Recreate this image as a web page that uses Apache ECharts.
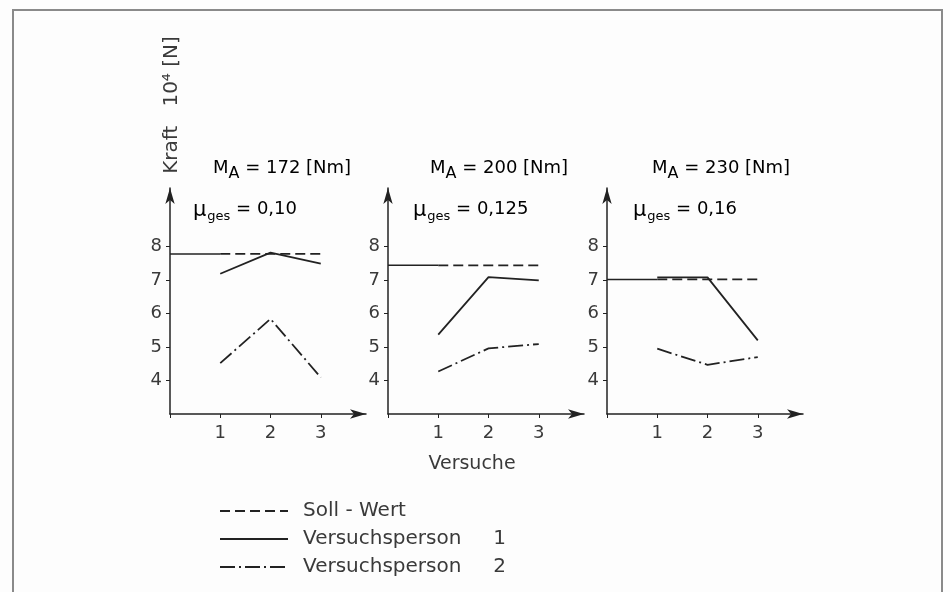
<!DOCTYPE html>
<html>
<head>
<meta charset="utf-8">
<script src="https://cdn.jsdelivr.net/npm/echarts@6/dist/echarts.min.js"></script>
<style>
  html, body { margin: 0; padding: 0; background: #fdfdfd; }
  #chart { width: 950px; height: 592px; }
</style>
</head>
<body>
<div id="chart"></div>
<script>
// Trials (Versuche)
const trials = [1, 2, 3];
// Tightening torque M_A [Nm] and total friction coefficient per panel
const torques = ['172', '200', '230'];
const frictions = ['0,10', '0,125', '0,16'];
// Target clamp force (Soll-Wert) per panel, in 10^4 N
const sollWert = [7.78, 7.44, 7.02];
// Measured clamp force, test person 1 and 2, per panel
const person1 = [
  [7.19, 7.82, 7.49],
  [5.37, 7.09, 6.99],
  [7.08, 7.08, 5.20]
];
const person2 = [
  [4.52, 5.84, 4.09],
  [4.27, 4.96, 5.09],
  [4.95, 4.47, 4.70]
];
const yTicks = [4, 5, 6, 7, 8];
const xTicks = [0, 1, 2, 3];

const INK = '#222';
const TEXT = '#3a3a3a';
const FONT = "'DejaVu Sans', sans-serif";
const NAME_SOLL = 'Soll - Wert';
const NAME_P1 = 'Versuchsperson     1';
const NAME_P2 = 'Versuchsperson     2';

const panelLeft = [170, 388, 607];
const grids = panelLeft.map(l => ({ left: l, top: 188, width: 196, height: 226 }));

const xAxes = grids.map((g, i) => ({
  type: 'value', gridIndex: i, min: 0, max: 3.9,
  splitLine: { show: false },
  axisLine: { lineStyle: { color: INK, width: 1.5 }, symbol: ['none', 'arrow'], symbolSize: [7, 16] },
  axisTick: { show: true, length: 4, lineStyle: { color: INK }, customValues: xTicks },
  axisLabel: { color: TEXT, fontSize: 18, fontFamily: FONT, margin: 10, customValues: trials }
}));

const yAxes = grids.map((g, i) => ({
  type: 'value', gridIndex: i, min: 3, max: 9.75,
  splitLine: { show: false },
  axisLine: { show: true, lineStyle: { color: INK, width: 1.5 }, symbol: ['none', 'arrow'], symbolSize: [7, 16] },
  axisTick: { show: true, length: 4, lineStyle: { color: INK }, customValues: yTicks },
  axisLabel: { color: TEXT, fontSize: 18, fontFamily: FONT, margin: 8, customValues: yTicks }
}));

const series = [];
for (let i = 0; i < 3; i++) {
  // reference level from the force axis to the first trial
  series.push({
    type: 'line', name: 'Soll-Bezug', xAxisIndex: i, yAxisIndex: i,
    data: [[0, sollWert[i]], [trials[0], sollWert[i]]],
    symbol: 'none', silent: true,
    lineStyle: { color: INK, width: 1.5, type: 'solid' }
  });
  series.push({
    type: 'line', name: NAME_SOLL, xAxisIndex: i, yAxisIndex: i,
    data: trials.map(t => [t, sollWert[i]]),
    symbol: 'none', itemStyle: { color: INK },
    lineStyle: { color: INK, width: 1.8, type: [10, 5] }
  });
  series.push({
    type: 'line', name: NAME_P1, xAxisIndex: i, yAxisIndex: i,
    data: trials.map((t, k) => [t, person1[i][k]]),
    symbol: 'none', itemStyle: { color: INK },
    lineStyle: { color: INK, width: 1.8, type: 'solid' }
  });
  series.push({
    type: 'line', name: NAME_P2, xAxisIndex: i, yAxisIndex: i,
    data: trials.map((t, k) => [t, person2[i][k]]),
    symbol: 'none', itemStyle: { color: INK },
    lineStyle: { color: INK, width: 1.8, type: [15, 4, 2, 4] }
  });
}

// panel headings: torque and friction coefficient
const richTxt = {
  m: { fontSize: 18, fontFamily: FONT, color: TEXT, verticalAlign: 'bottom', padding: [0, 0, 5, 0] },
  a: { fontSize: 16, fontFamily: FONT, color: TEXT, verticalAlign: 'bottom' },
  g: { fontSize: 13, fontFamily: FONT, color: TEXT, verticalAlign: 'bottom' },
  mu: { fontSize: 21, fontFamily: FONT, color: TEXT, verticalAlign: 'bottom', padding: [0, 1, 2, 0] }
};
const mLeft = [213, 430, 652];
const muLeft = [193, 413, 633];
const graphics = [
  { type: 'rect', shape: { x: 13, y: 10, width: 929, height: 620 }, style: { fill: 'none', stroke: '#8a8a8a', lineWidth: 2 }, silent: true },
  { type: 'text', x: 172, y: 105, rotation: Math.PI / 2,
    style: { text: 'Kraft   10\u2074 [N]', fontSize: 20, fontFamily: FONT, fill: TEXT, align: 'center', verticalAlign: 'middle' } },
  { type: 'text', x: 472, y: 464,
    style: { text: 'Versuche', fontSize: 19, fontFamily: FONT, fill: TEXT, align: 'center', verticalAlign: 'middle' } }
];
for (let i = 0; i < 3; i++) {
  graphics.push({ type: 'text', x: mLeft[i], y: 182,
    style: { text: '{m|M}{a|A}{m| = ' + torques[i] + ' [Nm]}', rich: richTxt, align: 'left', verticalAlign: 'bottom' } });
  graphics.push({ type: 'text', x: muLeft[i], y: 223,
    style: { text: '{mu|\u03bc}{g|ges}{m| = ' + frictions[i] + '}', rich: richTxt, align: 'left', verticalAlign: 'bottom' } });
}

const chart = echarts.init(document.getElementById('chart'), null, { renderer: 'canvas' });
chart.setOption({
  backgroundColor: '#fdfdfd',
  animation: false,
  grid: grids,
  xAxis: xAxes,
  yAxis: yAxes,
  series: series,
  legend: {
    data: [NAME_SOLL, NAME_P1, NAME_P2],
    orient: 'vertical', left: 214, top: 496, height: 130,
    itemWidth: 68, itemHeight: 14, itemGap: 8,
    selectedMode: false,
    itemStyle: { opacity: 0 },
    textStyle: { color: TEXT, fontSize: 20, fontFamily: FONT, padding: [0, 0, 0, 10] }
  },
  graphic: graphics
});
</script>
</body>
</html>
